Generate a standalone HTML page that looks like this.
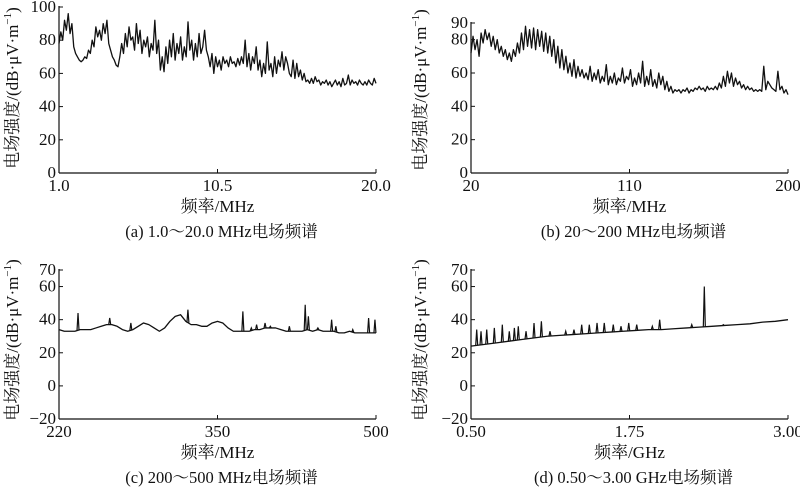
<!DOCTYPE html>
<html><head><meta charset="utf-8">
<style>
html,body{margin:0;padding:0;background:#fff;}
svg{display:block;}
text{font-family:"Liberation Serif","Noto Serif CJK SC",serif;fill:#111;}
</style></head>
<body>
<svg id="chart" width="800" height="487" viewBox="0 0 800 487" xmlns="http://www.w3.org/2000/svg" font-family="Liberation Serif, Noto Serif CJK SC, serif"></svg>
<script>
// Panel (a) 1.0-20.0 MHz
const aValues=[78,85,80,92,86,96,84,90,76,72,70,68,67,68,70,69,74,72,80,76,88,82,86,80,90,84,92,78,74,70,68,65,64,70,78,72,84,76,88,80,82,74,90,78,86,72,80,76,82,70,78,74,92,72,80,62,70,61,76,66,80,70,84,68,78,72,82,68,76,70,91,74,80,68,78,70,84,72,76,86,74,70,64,72,60,70,64,68,62,70,66,68,64,70,66,67,64,69,65,70,66,80,64,72,62,70,66,76,62,68,58,66,60,79,62,66,58,70,60,68,64,73,62,70,66,60,58,68,57,66,58,62,56,60,55,56,54,57,54,58,55,56,53,55,54,56,53,55,52,54,56,53,55,52,57,53,54,59,53,56,54,55,53,56,54,53,55,53,56,54,53,57,54];
const aTicksX=[1.0,10.5,20.0];
const aTickLabelsX=["1.0","10.5","20.0"];
const aTicksY=[0,20,40,60,80,100];
// Panel (b) 20-200 MHz
const bValues=[72,82,74,80,70,84,78,86,80,84,76,82,74,80,72,76,70,74,68,72,67,74,70,78,72,84,74,88,76,86,75,87,74,86,76,85,73,84,72,82,70,80,66,76,63,74,62,70,60,66,58,68,57,64,58,62,57,60,56,64,55,60,56,62,54,58,55,65,53,58,54,60,53,57,55,63,54,58,56,62,52,57,53,60,54,67,52,58,53,62,52,56,51,60,53,58,50,55,49,52,48,50,49,50,48,50,49,51,48,50,49,51,50,52,50,51,49,52,50,51,50,52,50,54,51,58,52,61,54,60,52,57,53,55,51,53,50,52,50,51,49,50,49,50,49,64,50,55,53,51,50,49,61,50,52,48,50,47];
const bTicksX=[20,110,200];
const bTickLabelsX=["20","110","200"];
const bTicksY=[0,20,40,60,80,90];
// Panel (c) 200-500 MHz
const cBaseFreqs=[200,205,210,215,220,225,230,235,240,245,250,255,260,265,270,275,280,285,290,295,300,305,310,315,320,325,330,335,340,345,350,355,360,365,370,375,380,385,390,395,400,405,410,415,420,425,430,435,440,445,450,455,460,465,470,475,480,485,490,495,500];
const cBaseValues=[34,33,33,33,34,34,34,35,36,37,37,36,34,33,34,36,38,37,35,33,35,39,42,43,39,37,37,36,36,38,39,38,35,33,33,33,33,34,34,35,35,35,34,33,33,33,33,34,33,34,33,33,33,32,32,33,32,32,32,32,32];
const cSpikeFreqs=[218,248,268,322,374,382,387,395,400,418,433,436,445,458,462,478,493,499];
const cSpikeValues=[44,41,38,46,45,35,37,38,36,36,49,42,35,40,36,34,41,40];
const cTicksX=[200,350,500];
const cTickLabelsX=["220","350","500"];
const cTicksY=[-20,0,20,40,60,70];
// Panel (d) 0.50-3.00 GHz
const dBaseFreqs=[0.5,0.6,0.7,0.8,0.9,1.0,1.1,1.2,1.3,1.4,1.5,1.6,1.7,1.8,1.9,2.0,2.1,2.2,2.3,2.4,2.5,2.6,2.7,2.8,2.9,3.0];
const dBaseValues=[24,25,26,27,28,29,30,30.5,31,31.5,32,32.5,33,33.5,34,34,34.5,35,35.5,36,36.5,37,37.5,38.5,39,40];
const dSpikeFreqs=[0.545,0.579,0.624,0.684,0.747,0.802,0.842,0.873,0.934,0.997,1.055,1.123,1.247,1.312,1.373,1.433,1.494,1.551,1.622,1.683,1.744,1.807,1.930,1.988,2.241,2.340,2.490];
const dSpikeValues=[34,33,34,35,37,33,35,36,33,38,39,33,33,34,37,37,38,38,37,36,38,37,36,40,37,60,37];
const dTicksX=[0.5,1.75,3.0];
const dTickLabelsX=["0.50","1.75","3.00"];
const dTicksY=[-20,0,20,40,60,70];

const NS="http://www.w3.org/2000/svg";
const svg=document.getElementById('chart');
function mk(tag,attrs,parent){const e=document.createElementNS(NS,tag);for(const k in attrs)e.setAttribute(k,attrs[k]);(parent||svg).appendChild(e);return e;}
function scale(d0,d1,r0,r1){return v=>r0+(v-d0)/(d1-d0)*(r1-r0);}

function panel(cfg){
  const g=mk('g',{});
  
  
  const X=scale(cfg.xd[0],cfg.xd[1],cfg.x0,cfg.x1);
  const Y=scale(cfg.yd[0],cfg.yd[1],cfg.yb,cfg.yt);
  const axY=mk('line',{x1:cfg.x0,y1:Y(cfg.yTicks[cfg.yTicks.length-1])-1,x2:cfg.x0,y2:cfg.yb,stroke:'#111','stroke-width':1.2},g);
  
  
  const axX=mk('line',{x1:cfg.x0,y1:cfg.yb,x2:cfg.x1,y2:cfg.yb,stroke:'#111','stroke-width':1.2},g);
  
  
  cfg.xTicks.forEach((v,i)=>{
    const x=X(v);
    const t=mk('line',{x1:x,y1:cfg.yb,x2:x,y2:cfg.yb-4,stroke:'#111','stroke-width':1},g);
    
    
    const tx=mk('text',{x:x,y:cfg.yb+18,'font-size':17,'text-anchor':'middle'},g);
    tx.textContent=cfg.xLabels[i];
    
    
  });
  cfg.yTicks.forEach(v=>{
    const y=Y(v);
    const t=mk('line',{x1:cfg.x0,y1:y,x2:cfg.x0+4,y2:y,stroke:'#111','stroke-width':1},g);
    
    
    const tx=mk('text',{x:cfg.x0-3,y:y+5,'font-size':17,'text-anchor':'end'},g);
    tx.textContent=String(v).replace('-','\u2212');
    
    
  });
  let pts=[];
  if(cfg.values){
    const n=cfg.values.length;
    cfg.values.forEach((v,i)=>{const f=cfg.xd[0]+(cfg.xd[1]-cfg.xd[0])*i/(n-1);pts.push(X(f).toFixed(2)+','+Y(v).toFixed(2));});
  }else{
    cfg.baseF.forEach((f,i)=>pts.push(X(f).toFixed(2)+','+Y(cfg.baseV[i]).toFixed(2)));
  }
  const line=mk('polyline',{points:pts.join(' '),fill:'none',stroke:'#111','stroke-width':1.3,'stroke-linejoin':'round'},g);
  
  
  if(cfg.spF){
    cfg.spF.forEach((f,i)=>{
      let b=cfg.baseV[0];
      for(let k=0;k<cfg.baseF.length-1;k++){if(f>=cfg.baseF[k]&&f<=cfg.baseF[k+1]){const t=(f-cfg.baseF[k])/(cfg.baseF[k+1]-cfg.baseF[k]);b=cfg.baseV[k]+t*(cfg.baseV[k+1]-cfg.baseV[k]);break;}}
      const x=X(f);
      const s=mk('polyline',{points:(x-1)+','+Y(b)+' '+x+','+Y(cfg.spV[i])+' '+(x+1)+','+Y(b),fill:'none',stroke:'#111','stroke-width':1.2},g);
      
      
    });
  }
  const yt=mk('text',{transform:'translate('+cfg.ytX+','+cfg.ytY+') rotate(-90)','font-size':17,'text-anchor':'middle'},g);
  yt.innerHTML='电场强度/(dB·μV·m<tspan dy="-7" font-size="11">−1</tspan><tspan dy="7">)</tspan>';
  
  
  const xt=mk('text',{x:(cfg.x0+cfg.x1)/2,y:cfg.yb+39,'font-size':17,'text-anchor':'middle'},g);
  xt.textContent=cfg.xTitle;
  
  
  const ct=mk('text',{x:(cfg.x0+cfg.x1)/2+4,y:cfg.yb+64,'font-size':16.5,'text-anchor':'middle'},g);
  ct.textContent=cfg.caption;
  
  
}

panel({name:'panel-a',x0:59,x1:376,yb:173,yt:7,xd:[1,20],yd:[0,100],xTicks:aTicksX,xLabels:aTickLabelsX,yTicks:aTicksY,values:aValues,ytX:18,ytY:88,xTitle:'频率/MHz',caption:'(a) 1.0～20.0 MHz电场频谱'});
panel({name:'panel-b',x0:471,x1:788,yb:173,yt:23,xd:[20,200],yd:[0,90],xTicks:bTicksX,xLabels:bTickLabelsX,yTicks:bTicksY,values:bValues,ytX:426,ytY:90,xTitle:'频率/MHz',caption:'(b)  20～200 MHz电场频谱'});
panel({name:'panel-c',x0:59,x1:376,yb:419,yt:270,xd:[200,500],yd:[-20,70],xTicks:cTicksX,xLabels:cTickLabelsX,yTicks:cTicksY,baseF:cBaseFreqs,baseV:cBaseValues,spF:cSpikeFreqs,spV:cSpikeValues,ytX:18,ytY:340,xTitle:'频率/MHz',caption:'(c)  200～500 MHz电场频谱'});
panel({name:'panel-d',x0:471,x1:788,yb:419,yt:270,xd:[0.5,3.0],yd:[-20,70],xTicks:dTicksX,xLabels:dTickLabelsX,yTicks:dTicksY,baseF:dBaseFreqs,baseV:dBaseValues,spF:dSpikeFreqs,spV:dSpikeValues,ytX:426,ytY:340,xTitle:'频率/GHz',caption:'(d)  0.50～3.00 GHz电场频谱'});
</script>
</body></html>
